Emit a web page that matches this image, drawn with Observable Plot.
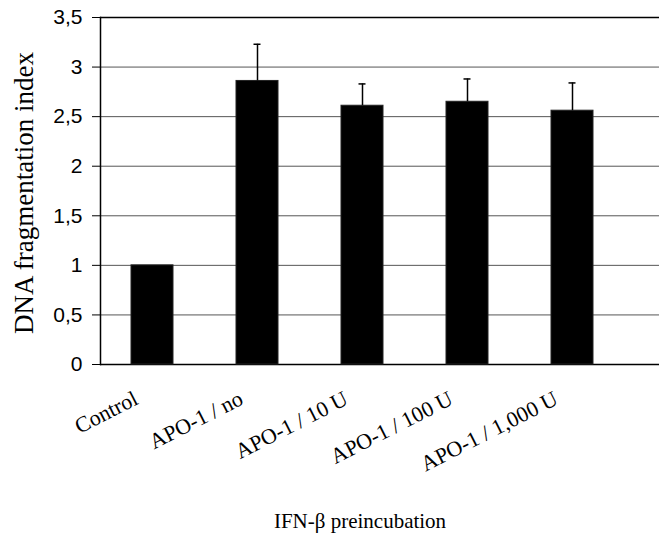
<!DOCTYPE html>
<html>
<head>
<meta charset="utf-8">
<script src="https://cdn.jsdelivr.net/npm/d3@7"></script>
<script src="https://cdn.jsdelivr.net/npm/@observablehq/plot@0.6"></script>
<style>
  html, body { margin: 0; padding: 0; background: #fff; }
</style>
</head>
<body>
<div id="chart"></div>
<script>
const categories = ["Control", "APO-1 / no", "APO-1 / 10 U", "APO-1 / 100 U", "APO-1 / 1,000 U"];
const values = [1.0, 2.86, 2.61, 2.65, 2.56];
const errors = [0, 0.37, 0.22, 0.23, 0.28];
const yTicksInt = [0, 1, 2, 3];
const yTicksHalf = [0.5, 1.5, 2.5, 3.5];
const gridValues = [0.5, 1, 1.5, 2, 2.5, 3];
const yTitle = "DNA fragmentation index";
const xTitle = "IFN-β preincubation";

const data = categories.map((c, i) => ({cat: c, value: values[i], err: errors[i]}));
const withErr = data.filter(d => d.err > 0);
const fmt = d => String(d).replace(".", ",");

const chart = Plot.plot({
  width: 659,
  height: 538,
  marginLeft: 100,
  marginRight: 0,
  marginTop: 17,
  marginBottom: 174,
  style: {background: "#fff", fontFamily: "Liberation Sans, Arial, sans-serif", fontSize: "21px", color: "#000"},
  x: {type: "band", domain: categories, range: [100, 625], paddingInner: 0.6, paddingOuter: 0.3, axis: null},
  y: {domain: [0, 3.5], axis: null},
  marks: [
    Plot.ruleY(gridValues, {stroke: "#555", strokeWidth: 1}),
    Plot.ruleY([0, 3.5], {stroke: "#000", strokeWidth: 1.5}),
    Plot.frame({anchor: "left", stroke: "#000", strokeWidth: 1.5}),
    Plot.axisY({ticks: yTicksInt, label: null, tickSize: 8, tickPadding: 10, tickFormat: fmt, fontSize: 21, stroke: "#000"}),
    Plot.axisY({ticks: yTicksHalf, label: null, tickSize: 8, tickPadding: 10, tickFormat: fmt, fontSize: 21, stroke: "#000"}),
    Plot.barY(data, {x: "cat", y: "value", fill: "#000", stroke: "#222", strokeWidth: 1}),
    Plot.ruleX(withErr, {x: "cat", y1: "value", y2: d => d.value + d.err, stroke: "#000", strokeWidth: 1.5}),
    Plot.tickY(withErr, {x: "cat", y: d => d.value + d.err, insetLeft: 17.5, insetRight: 17.5, stroke: "#000", strokeWidth: 1.5}),
    Plot.text(categories, {x: d => d, y: 0, text: d => d, rotate: -27, textAnchor: "end", lineAnchor: "bottom", dx: -13, dy: 39, fontFamily: "Liberation Serif, Times New Roman, serif", fontSize: 22, fill: "#000"}),
    Plot.text([yTitle], {frameAnchor: "left", text: d => d, rotate: -90, lineAnchor: "bottom", textAnchor: "middle", dx: -68, dy: 2, fontFamily: "Liberation Serif, Times New Roman, serif", fontSize: 27, fill: "#000"}),
    Plot.text([xTitle], {frameAnchor: "bottom", text: d => d, lineAnchor: "bottom", textAnchor: "middle", dx: -20, dy: 163, fontFamily: "Liberation Serif, Times New Roman, serif", fontSize: 21, fill: "#000"})
  ]
});
document.getElementById("chart").appendChild(chart);
</script>
</body>
</html>
